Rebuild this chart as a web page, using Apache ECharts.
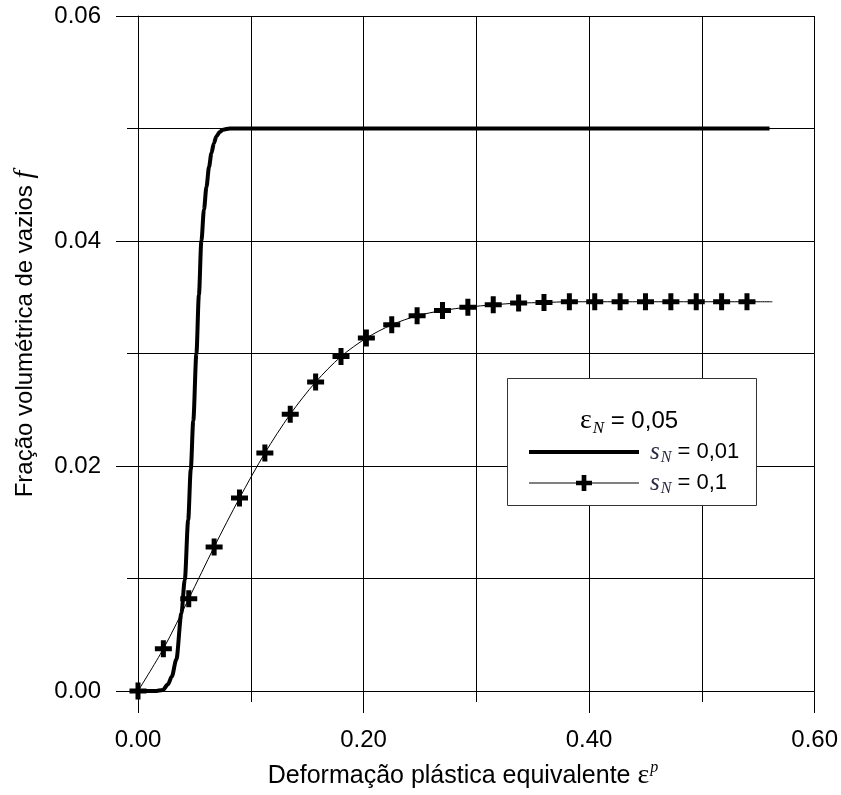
<!DOCTYPE html>
<html>
<head>
<meta charset="utf-8">
<script src="https://cdn.jsdelivr.net/npm/echarts@6/dist/echarts.min.js"></script>
<style>html,body{margin:0;padding:0;background:#fff;}#chart{width:841px;height:795px;}</style>
</head>
<body>
<div id="chart"></div>
<script>
// ---- data ----
const xTicks = [0, 0.2, 0.4, 0.6];
const yTicks = [0, 0.02, 0.04, 0.06];

// s_N = 0.01 (thick line)
const epsA = [0, 0.015, 0.022, 0.0266, 0.030, 0.034, 0.0385, 0.0415, 0.0445, 0.0468, 0.0490, 0.0518, 0.0540, 0.0562, 0.0585, 0.0607, 0.0630, 0.0651, 0.0673, 0.0695, 0.0725, 0.0754, 0.0814, 0.56];
const fA   = [0, 0, 0.0001, 0.0006, 0.0013, 0.0028, 0.0069, 0.0099, 0.0152, 0.0197, 0.0240, 0.0300, 0.0352, 0.0400, 0.0428, 0.0448, 0.0466, 0.0478, 0.0487, 0.0493, 0.0497, 0.0499, 0.0500, 0.0500];

// s_N = 0.1 (thin line with crosses)
const epsB = [0, 0.0225, 0.045, 0.0675, 0.09, 0.1125, 0.135, 0.1575, 0.18, 0.2025, 0.225, 0.2475, 0.27, 0.2925, 0.315, 0.3375, 0.36, 0.3825, 0.405, 0.4275, 0.45, 0.4725, 0.495, 0.5175, 0.54, 0.5625];
const fB   = [0, 0.00375, 0.0082, 0.0128, 0.01715, 0.02115, 0.0246, 0.02746, 0.02973, 0.03137, 0.03255, 0.03335, 0.03382, 0.03412, 0.03433, 0.03448, 0.03453, 0.0346, 0.0346, 0.0346, 0.0346, 0.0346, 0.0346, 0.0346, 0.0346, 0.0346];
const markerCount = 25; // last point of series B has no marker

const nameA = 'sN = 0,01';
const nameB = 'sN = 0,1';

const SANS = "'Liberation Sans', Arial, sans-serif";
const SERIF = "'Liberation Serif', 'Times New Roman', serif";
const plus = 'path://M6,0H11V6H17V11H11V17H6V11H0V6H6Z';

const dataA = epsA.map((e, i) => [e, fA[i]]);
const dataB = epsB.map((e, i) => i < markerCount ? [e, fB[i]] : { value: [e, fB[i]], symbol: 'none' });

const chart = echarts.init(document.getElementById('chart'), null, { renderer: 'canvas' });
const gridLine = { show: true, lineStyle: { color: '#000', width: 1 } };

chart.setOption({
  animation: false,
  backgroundColor: '#fff',
  grid: { left: 138, top: 16, width: 677, height: 675, containLabel: false },
  xAxis: {
    type: 'value', min: xTicks[0], max: xTicks[xTicks.length - 1], interval: 0.2,
    axisLine: { show: true, onZero: false, lineStyle: { color: '#000', width: 1 } },
    axisTick: { show: true, length: 22, lineStyle: { color: '#000', width: 1 } },
    minorTick: { show: true, splitNumber: 2, length: 11, lineStyle: { color: '#000', width: 1 } },
    splitLine: gridLine,
    minorSplitLine: gridLine,
    axisLabel: { margin: 37, fontFamily: SANS, fontSize: 24, color: '#000', formatter: v => v.toFixed(2) }
  },
  yAxis: {
    type: 'value', min: yTicks[0], max: yTicks[yTicks.length - 1], interval: 0.02,
    axisLine: { show: true, onZero: false, lineStyle: { color: '#000', width: 1 } },
    axisTick: { show: true, length: 22, lineStyle: { color: '#000', width: 1 } },
    minorTick: { show: true, splitNumber: 2, length: 11, lineStyle: { color: '#000', width: 1 } },
    splitLine: gridLine,
    minorSplitLine: gridLine,
    axisLabel: { margin: 37, fontFamily: SANS, fontSize: 24, color: '#000', formatter: v => v.toFixed(2) }
  },
  legend: {
    orient: 'vertical', left: 522, top: 433, z: 20,
    itemWidth: 110, itemHeight: 20, itemGap: 3,
    data: [
      { name: nameA, itemStyle: { opacity: 0 }, lineStyle: { width: 4, color: '#000' } },
      { name: nameB, lineStyle: { width: 1, color: '#000' } }
    ],
    formatter: n => n === nameA ? '{g|}{s|s}{n|N}{t| = 0,01}' : '{g|}{s|s}{n|N}{t| = 0,1}',
    textStyle: {
      color: '#000', fontFamily: SANS, fontSize: 22, lineHeight: 28,
      rich: {
        g: { width: 6, lineHeight: 28 },
        s: { fontFamily: SERIF, fontStyle: 'italic', fontSize: 25, color: '#2a2a44', lineHeight: 28 },
        n: { fontFamily: SERIF, fontStyle: 'italic', fontSize: 16, color: '#2a2a44', lineHeight: 9, verticalAlign: 'bottom', padding: [0, 0, 0, 1] },
        t: { fontFamily: SANS, fontSize: 22, color: '#000', lineHeight: 28 }
      }
    }
  },
  graphic: [
    { type: 'rect', z: 10, shape: { x: 507.5, y: 378.5, width: 249, height: 127 },
      style: { fill: '#fff', stroke: '#333', lineWidth: 1 } },
    { type: 'text', z: 11, x: 629, y: 421,
      style: { text: '{e|ε}{n|N}{t| = 0,05}', align: 'center', verticalAlign: 'middle',
        rich: {
          e: { fontFamily: SERIF, fontSize: 28, fill: '#000' },
          n: { fontFamily: SERIF, fontStyle: 'italic', fontSize: 17, fill: '#000', padding: [16, 0, 0, 1] },
          t: { fontFamily: SANS, fontSize: 24, fill: '#000' }
        } } },
    { type: 'text', z: 11, x: 463, y: 776,
      style: { text: '{t|Deformação plástica equivalente }{e|ε}{p|p}', align: 'center', verticalAlign: 'middle',
        rich: {
          t: { fontFamily: SANS, fontSize: 25, fill: '#000' },
          e: { fontFamily: SERIF, fontSize: 28, fill: '#000' },
          p: { fontFamily: SERIF, fontStyle: 'italic', fontSize: 16, fill: '#000', padding: [0, 0, 16, 1] }
        } } },
    { type: 'text', z: 11, x: 25, y: 334, rotation: Math.PI / 2,
      style: { text: '{t|Fração volumétrica de vazios }{f|f}', align: 'center', verticalAlign: 'middle',
        rich: {
          t: { fontFamily: SANS, fontSize: 24, fill: '#000' },
          f: { fontFamily: SERIF, fontStyle: 'italic', fontSize: 28, fill: '#000' }
        } } }
  ],
  series: [
    { name: nameA, type: 'line', data: dataA, symbol: 'none', smooth: 0.3, smoothMonotone: 'x',
      lineStyle: { color: '#000', width: 4 }, itemStyle: { color: '#000' }, z: 3 },
    { name: nameB, type: 'line', data: dataB, symbol: plus, symbolSize: 17, showAllSymbol: true,
      smooth: 0.3,
      lineStyle: { color: '#000', width: 1 }, itemStyle: { color: '#000' }, z: 4 }
  ]
});
</script>
</body>
</html>
